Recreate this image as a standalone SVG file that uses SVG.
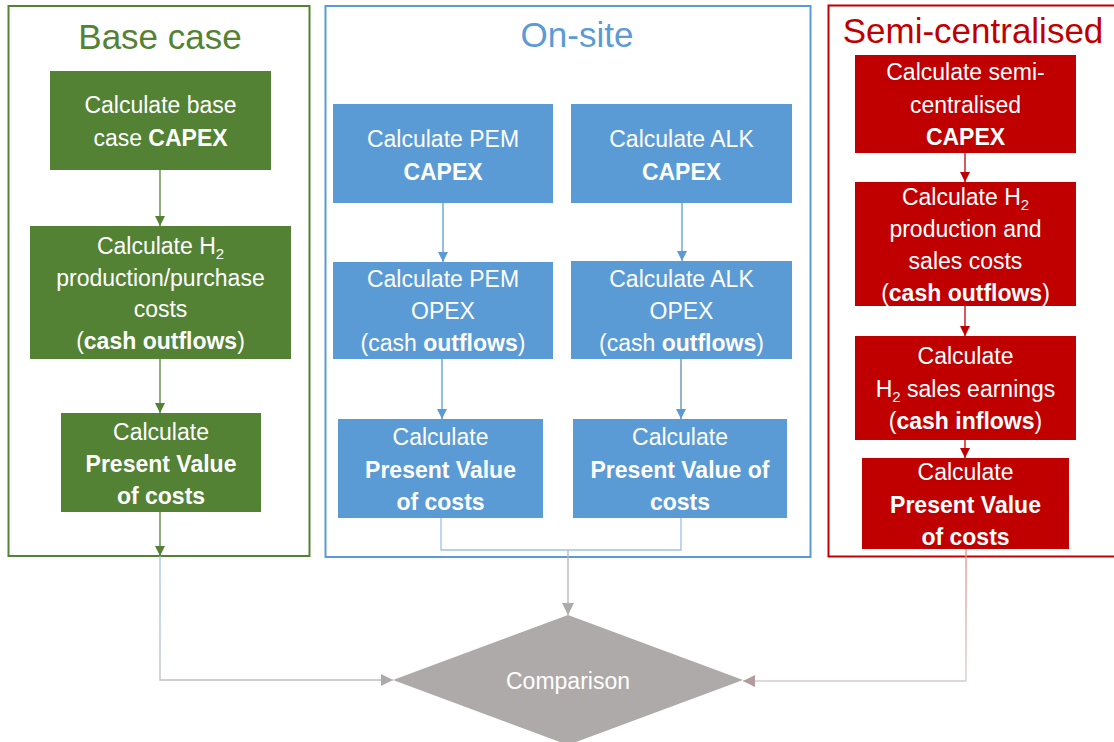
<svg xmlns="http://www.w3.org/2000/svg" width="1114" height="742" viewBox="0 0 1114 742">
<style>
text{font-family:"Liberation Sans",Arial,sans-serif;}
.t{font-size:23px;fill:#fff;text-anchor:middle;}
.b{font-weight:bold;}
.title{font-size:35px;text-anchor:middle;}
.sub{font-size:15px;}
.g{fill:#548235;}
.bl{fill:#5b9bd5;}
.r{fill:#c00000;}
.cg{stroke:#548235;}
.cb{stroke:#5b9bd5;}
.cr{stroke:#c00000;}
.frame{fill:none;stroke-width:2;}
.ln{fill:none;stroke-width:1.3;}
</style>
<defs>
<marker id="ag" markerUnits="userSpaceOnUse" markerWidth="10" markerHeight="10" refX="10" refY="5" orient="auto"><path d="M0,0 L10,5 L0,10 z" fill="#548235"/></marker>
<marker id="ab" markerUnits="userSpaceOnUse" markerWidth="10" markerHeight="10" refX="10" refY="5" orient="auto"><path d="M0,0 L10,5 L0,10 z" fill="#5b9bd5"/></marker>
<marker id="ar" markerUnits="userSpaceOnUse" markerWidth="10" markerHeight="10" refX="10" refY="5" orient="auto"><path d="M0,0 L10,5 L0,10 z" fill="#c00000"/></marker>
<marker id="agr" markerUnits="userSpaceOnUse" markerWidth="12" markerHeight="12" refX="12" refY="6" orient="auto"><path d="M0,0 L12,6 L0,12 z" fill="#aeaaaa"/></marker>
<marker id="apk" markerUnits="userSpaceOnUse" markerWidth="12" markerHeight="12" refX="12" refY="6" orient="auto"><path d="M0,0 L12,6 L0,12 z" fill="#b49c9e"/></marker>
<linearGradient id="gb" gradientUnits="userSpaceOnUse" x1="0" y1="556" x2="0" y2="680"><stop offset="0" stop-color="#9dc3e6"/><stop offset="1" stop-color="#bfbfbf"/></linearGradient>
<linearGradient id="gr" gradientUnits="userSpaceOnUse" x1="0" y1="549" x2="0" y2="681"><stop offset="0" stop-color="#e88c8c"/><stop offset="1" stop-color="#d6cccc"/></linearGradient>
</defs>

<g id="frame-base">
<rect class="frame cg" x="8.5" y="6" width="301" height="550"/>
<text class="title g" x="160" y="49">Base case</text>
</g>
<g id="frame-onsite">
<rect class="frame cb" x="325.5" y="6" width="485" height="551"/>
<text class="title bl" x="577" y="47">On-site</text>
</g>
<g id="frame-semi">
<rect class="frame cr" x="828.5" y="5.5" width="300" height="551"/>
<text class="title r" x="973" y="43">Semi-centralised</text>
</g>

<g id="connectors">
<path class="ln cg" d="M160,170 V226" marker-end="url(#ag)"/>
<path class="ln cg" d="M160,359 V413" marker-end="url(#ag)"/>
<path class="ln cg" d="M160,512 V556" marker-end="url(#ag)"/>
<path class="ln" stroke="url(#gb)" d="M160,556 V680 H393" marker-end="url(#agr)"/>
<path class="ln cb" d="M443,203 V262" marker-end="url(#ab)"/>
<path class="ln cb" d="M682,203 V261" marker-end="url(#ab)"/>
<path class="ln cb" d="M442,359 V419" marker-end="url(#ab)"/>
<path class="ln" stroke="#5a8fb0" d="M681,359 V419" marker-end="url(#ab)"/>
<path class="ln" stroke="#9dc3e6" d="M441,518 V550 H681 V518"/>
<path class="ln" stroke="#b4b4b4" d="M568,550 V615" marker-end="url(#agr)"/>
<path class="ln cr" d="M965,153 V182" marker-end="url(#ar)"/>
<path class="ln cr" d="M965,306 V336" marker-end="url(#ar)"/>
<path class="ln cr" d="M965,440 V458" marker-end="url(#ar)"/>
<path class="ln" stroke="url(#gr)" d="M966,549 V681 H743" marker-end="url(#apk)"/>
</g>

<g id="base-capex">
<rect class="g" x="50" y="71" width="221" height="99"/>
<text class="t" x="160.5" y="113">Calculate base</text>
<text class="t" x="160.5" y="146">case <tspan class="b">CAPEX</tspan></text>
</g>
<g id="base-production">
<rect class="g" x="30" y="226" width="261" height="133"/>
<text class="t" x="160.5" y="254">Calculate H<tspan class="sub" dy="5">2</tspan></text>
<text class="t" x="160.5" y="286">production/purchase</text>
<text class="t" x="160.5" y="317">costs</text>
<text class="t" x="160.5" y="349">(<tspan class="b">cash outflows</tspan>)</text>
</g>
<g id="base-pv">
<rect class="g" x="61" y="413" width="200" height="99"/>
<text class="t" x="161" y="440">Calculate</text>
<text class="t b" x="161" y="472">Present Value</text>
<text class="t b" x="161" y="504">of costs</text>
</g>

<g id="pem-capex">
<rect class="bl" x="333" y="104" width="220" height="99"/>
<text class="t" x="443" y="147">Calculate PEM</text>
<text class="t b" x="443" y="180">CAPEX</text>
</g>
<g id="alk-capex">
<rect class="bl" x="571" y="104" width="221" height="99"/>
<text class="t" x="681.5" y="147">Calculate ALK</text>
<text class="t b" x="681.5" y="180">CAPEX</text>
</g>
<g id="pem-opex">
<rect class="bl" x="333" y="262" width="220" height="97"/>
<text class="t" x="443" y="287">Calculate PEM</text>
<text class="t" x="443" y="319">OPEX</text>
<text class="t" x="443" y="351">(cash <tspan class="b">outflows</tspan>)</text>
</g>
<g id="alk-opex">
<rect class="bl" x="571" y="261" width="221" height="98"/>
<text class="t" x="681.5" y="287">Calculate ALK</text>
<text class="t" x="681.5" y="319">OPEX</text>
<text class="t" x="681.5" y="351">(cash <tspan class="b">outflows</tspan>)</text>
</g>
<g id="pem-pv">
<rect class="bl" x="338" y="419" width="205" height="99"/>
<text class="t" x="440.5" y="445">Calculate</text>
<text class="t b" x="440.5" y="478">Present Value</text>
<text class="t b" x="440.5" y="510">of costs</text>
</g>
<g id="alk-pv">
<rect class="bl" x="573" y="419" width="214" height="99"/>
<text class="t" x="680" y="445">Calculate</text>
<text class="t b" x="680" y="478">Present Value of</text>
<text class="t b" x="680" y="510">costs</text>
</g>

<g id="semi-capex">
<rect class="r" x="855" y="55" width="221" height="98"/>
<text class="t" x="965.5" y="80">Calculate semi-</text>
<text class="t" x="965.5" y="113">centralised</text>
<text class="t b" x="965.5" y="145">CAPEX</text>
</g>
<g id="semi-production">
<rect class="r" x="855" y="182" width="221" height="124"/>
<text class="t" x="965.5" y="205">Calculate H<tspan class="sub" dy="5">2</tspan></text>
<text class="t" x="965.5" y="237">production and</text>
<text class="t" x="965.5" y="269">sales costs</text>
<text class="t" x="965.5" y="301">(<tspan class="b">cash outflows</tspan>)</text>
</g>
<g id="semi-earnings">
<rect class="r" x="855" y="336" width="221" height="104"/>
<text class="t" x="965.5" y="364">Calculate</text>
<text class="t" x="965.5" y="397">H<tspan class="sub" dy="5">2</tspan><tspan dy="-5"> sales earnings</tspan></text>
<text class="t" x="965.5" y="429">(<tspan class="b">cash inflows</tspan>)</text>
</g>
<g id="semi-pv">
<rect class="r" x="862" y="458" width="207" height="91"/>
<text class="t" x="965.5" y="480">Calculate</text>
<text class="t b" x="965.5" y="513">Present Value</text>
<text class="t b" x="965.5" y="545">of costs</text>
</g>

<g id="comparison">
<polygon points="568,615 743,680 568,745 393,680" fill="#aeaaaa"/>
<text class="t" x="568" y="689">Comparison</text>
</g>
</svg>
